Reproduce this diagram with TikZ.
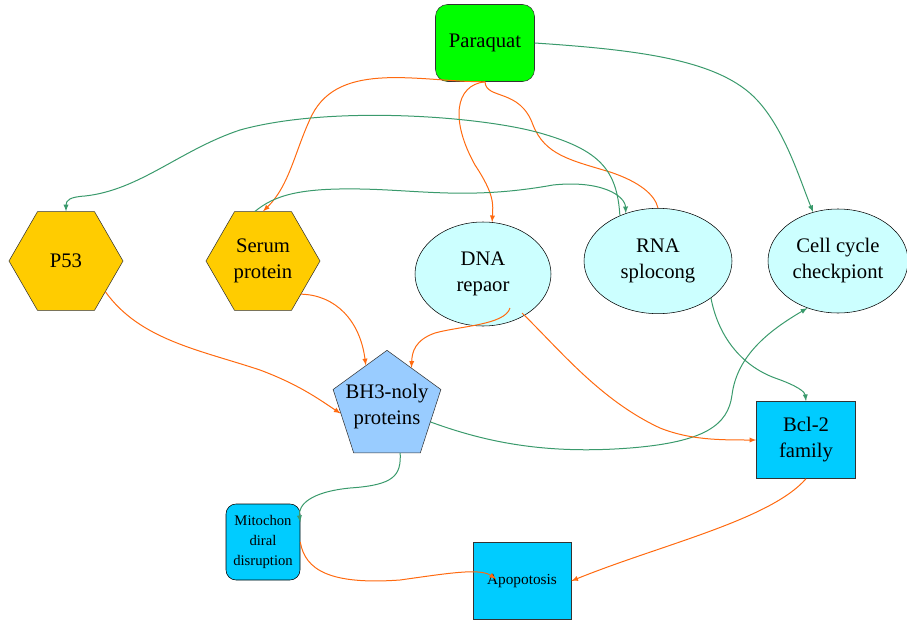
\documentclass[tikz,border=0pt]{standalone}
\usepackage{fontspec}
\setmainfont{Liberation Serif}
\newfontfamily\diagfont{Liberation Serif}
\usetikzlibrary{positioning,shapes.geometric}
\definecolor{drugGreen}{HTML}{00FF00}
\definecolor{geneGold}{HTML}{FFCC00}
\definecolor{processCyan}{HTML}{CCFFFF}
\definecolor{proteinBlue}{HTML}{99CCFF}
\definecolor{familyBlue}{HTML}{00CCFF}
\definecolor{actOrange}{HTML}{FF6A10}
\definecolor{inhGreen}{HTML}{3A9A6C}
\tikzset{
	%Diagrammes style
	drug/.style={
		draw=black!80,
		rectangle,
		rounded corners=9pt,
		fill=drugGreen,
		minimum width=74.25pt,
		minimum height=57.75pt,
		align=center,
		font=\diagfont\fontsize{15.5}{19.5}\selectfont,
	},
	gene/.style={ % requires library shapes.geometric
		draw=black!80,
		regular polygon,
		regular polygon sides=6,
		minimum size=85.5pt,
		inner sep=0pt,
		fill=geneGold,
		align=center,
		font=\diagfont\fontsize{15.5}{19.5}\selectfont,
	},
	process/.style={ % requires library shapes.geometric
		draw=black,
		ellipse,
		inner sep=0pt,
		fill=processCyan,
		align=center,
		font=\diagfont\fontsize{15.5}{19.5}\selectfont,
	},
	protein/.style={
		draw=black!80,
		regular polygon,
		regular polygon sides=5,
		minimum size=85pt,
		inner sep=-10pt,
		fill=proteinBlue,
		align=center,
		font=\diagfont\fontsize{15.5}{19.5}\selectfont,
	},
	family/.style={
		draw=black!80,
		rectangle,
		fill=familyBlue,
		minimum width=74.25pt,
		minimum height=57.75pt,
		align=center,
		font=\diagfont\fontsize{15.5}{19.5}\selectfont,
	},
	event/.style={
		draw=black,
		rectangle,
		rounded corners=7.5pt,
		fill=familyBlue,
		minimum width=55.5pt,
		minimum height=57pt,
		inner sep=1pt,
		align=center,
		font=\diagfont\fontsize{11}{15}\selectfont,
	},
	outcome/.style={
		draw=black!80,
		rectangle,
		fill=familyBlue,
		minimum width=73.5pt,
		minimum height=57.75pt,
		align=center,
		font=\diagfont\fontsize{11.5}{15}\selectfont,
	},
	activation/.style={
		actOrange,
		->,
		line width=0.75pt,
	},
	linkage/.style={
		inhGreen,
		->,
		line width=0.75pt,
	},
}

\begin{document}
\begin{tikzpicture}[x=0.75pt, y=-0.75pt, >=latex]
	\useasboundingbox (0,0) rectangle (907,621);

	\node(paraquat) at (485,43) [drug] {Paraquat};
	\node(p53) at (66,261) [gene] {P53};
	\node(serum) at (263,261) [gene] {Serum\\protein};
	\node(dna) at (483,274) [process, minimum width=102pt, minimum height=78pt] {DNA\\repaor};
	\node(rna) at (658,261) [process, minimum width=111pt, minimum height=79pt] {RNA\\splocong};
	\node(cell) at (838,261) [process, minimum width=105pt, minimum height=78pt] {Cell cycle\\checkpiont};
	\node(bh3) at (387,407) [protein] {BH3-noly\\proteins};
	\node(bcl) at (806,440) [family] {Bcl-2\\family};
	\node(mito) at (263,542) [event] {Mitochon\\diral\\disruption};
	\node(apop) at (522,581) [outcome] {Apopotosis};

	% from Paraquat
	\draw[activation] (paraquat.south) .. controls (420,82) and (340,60) .. (312,115) .. controls (295,150) and (290,185) .. (serum.north);
	\draw[activation] (paraquat.south) .. controls (455,85) and (450,120) .. (475,165) .. controls (495,195) and (493,205) .. (dna.80);
	\draw[activation, -] (paraquat.south) .. controls (486,100) and (520,88) .. (533,125) .. controls (545,155) and (570,160) .. (610,172) .. controls (640,182) and (655,195) .. (rna.north);
	\draw[linkage] (paraquat.east) .. controls (640,50) and (720,60) .. (757,100) .. controls (785,130) and (800,180) .. (cell.117);

	% long green links
	\draw[linkage] (rna.130) .. controls (617,170) and (600,150) .. (540,133) .. controls (480,116) and (330,105) .. (240,130) .. controls (180,150) and (140,190) .. (85,196) .. controls (70,197) and (66,200) .. (p53.north);
	\draw[linkage] ([shift={(-8,0)}]serum.north) .. controls (275,195) and (300,188) .. (360,189) .. controls (420,190) and (470,200) .. (553,185) .. controls (600,180) and (625,195) .. (rna.124);
	\draw[linkage] (rna.-35) .. controls (718,335) and (740,365) .. (775,378) .. controls (798,386) and (805,392) .. (bcl.north);
	\draw[linkage] (bh3.-19) .. controls (480,440) and (540,455) .. (630,448) .. controls (705,442) and (728,425) .. (732,395) .. controls (737,355) and (770,330) .. (cell.-123);

	% into BH3
	\draw[activation] (p53.-38) .. controls (140,340) and (200,350) .. (260,370) .. controls (300,385) and (320,400) .. (bh3.188);
	\draw[activation] (serum.-41) .. controls (335,295) and (360,320) .. (bh3.117);
	\draw[activation] ([shift={(27,34)}]dna.center) .. controls (505,325) and (460,326) .. (435,333) .. controls (415,340) and (412,352) .. (bh3.58);
	\draw[activation] ([shift={(39,39)}]dna.center) .. controls (560,350) and (600,400) .. (660,428) .. controls (690,440) and (720,440) .. (bcl.west);

	% to Apopotosis
	\draw[linkage] (bh3.-74) .. controls (401,475) and (395,485) .. (350,488) .. controls (310,492) and (298,505) .. (mito.28);
	\draw[activation] (mito.east) .. controls (305,570) and (330,585) .. (400,580) .. controls (450,573) and (480,568) .. ([shift={(-26,-2)}]apop.center);
	\draw[activation] (bcl.south) .. controls (770,520) and (660,545) .. (apop.east);
\end{tikzpicture}
\end{document}
